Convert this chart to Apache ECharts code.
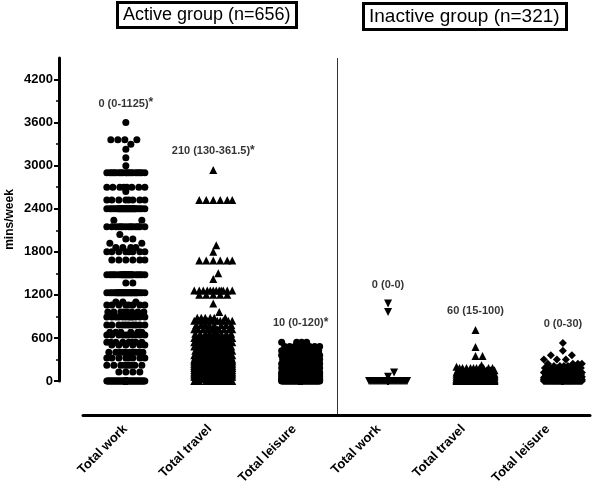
<!DOCTYPE html>
<html>
<head>
<meta charset="utf-8">
<title>mins/week by group</title>
<script src="https://cdn.jsdelivr.net/npm/echarts@6/dist/echarts.min.js"></script>
<style>
  html, body { margin: 0; padding: 0; background: #fff; }
  #main { width: 600px; height: 488px; }
</style>
</head>
<body>
<div id="main"></div>
<script>
// categories and tick labels
var categories = ['Total work', 'Total travel', 'Total leisure', 'Total work', 'Total travel', 'Total leisure'];
var groupTitles = ['Active group (n=656)', 'Inactive group (n=321)'];
var yTicks = [0, 600, 1200, 1800, 2400, 3000, 3600, 4200];

// summary text: median (IQR), * = significant
var summaryText = ['0 (0-1125)', '210 (130-361.5)', '10 (0-120)', '0 (0-0)', '60 (15-100)', '0 (0-30)'];
var summaryStar = [true, true, true, false, false, false];

// active group, mins/week values and how many people sit at each value
var activeWorkValues = [0, 125, 220, 320, 400, 500, 540, 640, 680, 780, 890, 960, 1060, 1100, 1230, 1365, 1480, 1685, 1800, 1860, 1920, 1980, 2040, 2150, 2240, 2400, 2520, 2640, 2700, 2900, 3000, 3110, 3230, 3300, 3360, 3600];
var activeWorkCounts = [388, 4, 8, 8, 10, 6, 8, 10, 6, 10, 12, 8, 8, 3, 30, 2, 24, 6, 8, 4, 2, 2, 1, 14, 2, 28, 8, 1, 8, 18, 1, 1, 1, 1, 4, 1];

var activeTravelValues = [0, 30, 60, 90, 120, 150, 180, 210, 240, 270, 300, 330, 360, 420, 480, 540, 600, 660, 720, 780, 840, 880, 960, 1080, 1200, 1260, 1420, 1500, 1680, 1800, 1890, 2520, 2940];
var activeTravelCounts = [10, 10, 40, 40, 44, 40, 50, 60, 50, 40, 40, 20, 30, 30, 25, 20, 25, 10, 12, 8, 10, 6, 1, 1, 5, 12, 1, 1, 6, 1, 1, 6, 1];

var activeLeisureValues = [0, 10, 20, 30, 45, 60, 90, 120, 150, 180, 210, 240, 270, 300, 360, 420, 480, 540];
var activeLeisureCounts = [301, 40, 15, 15, 20, 40, 40, 40, 20, 25, 15, 20, 8, 20, 15, 10, 8, 4];

// inactive group
var inactiveWorkValues = [0, 60, 120, 960, 1080];
var inactiveWorkCounts = [317, 1, 1, 1, 1];

var inactiveTravelValues = [0, 10, 15, 20, 30, 40, 45, 60, 70, 80, 90, 100, 120, 150, 180, 200, 220, 350, 475, 710];
var inactiveTravelCounts = [55, 15, 20, 15, 30, 15, 10, 40, 10, 15, 20, 20, 25, 15, 10, 1, 1, 2, 1, 1];

var inactiveLeisureValues = [0, 10, 20, 30, 45, 60, 90, 120, 150, 180, 210, 240, 300, 360, 420, 530];
var inactiveLeisureCounts = [170, 20, 25, 20, 10, 20, 15, 12, 8, 6, 4, 4, 3, 2, 1, 1];

// layout
var FONT = 'Liberation Sans, Arial, sans-serif';
var GRID_LEFT = 83, GRID_WIDTH = 507, GRID_TOP = 58, GRID_HEIGHT = 323;
var Y_MAX = 4500;
var X_AXIS_OFFSET = 34;
var SWARM_MIN = -0.49, SWARM_MAX = 5.31;
var PX_PER_COL = GRID_WIDTH / (SWARM_MAX - SWARM_MIN);
var PX_PER_MIN = GRID_HEIGHT / Y_MAX;
var DOT = 7;     // spacing between dot centres, px
var CAP = 19;    // max half width of a column, px

// simple beeswarm: each point goes to the nearest free spot from the centre,
// if the column is full it goes where it overlaps least
function swarm(values, counts, col) {
    var placed = [];
    var out = [];
    values.forEach(function (v, k) {
        var ypx = v * PX_PER_MIN;
        for (var n = 0; n < counts[k]; n++) {
            var near = placed.filter(function (p) { return Math.abs(p[1] - ypx) < DOT; });
            var best = 0, bestScore = -1;
            for (var i = 0; i <= 2 * CAP; i++) {
                var x = i % 2 ? (i + 1) / 2 : -i / 2;
                var d = Infinity;
                for (var j = 0; j < near.length; j++) {
                    var dx = near[j][0] - x, dy = near[j][1] - ypx;
                    d = Math.min(d, dx * dx + dy * dy);
                }
                if (d >= DOT * DOT) { best = x; break; }
                if (d > bestScore) { bestScore = d; best = x; }
            }
            placed.push([best, ypx]);
            out.push([col + best / PX_PER_COL, v]);
        }
    });
    return out;
}

var columns = [
    { values: activeWorkValues, counts: activeWorkCounts, symbol: 'circle', size: 7, rotate: 0 },
    { values: activeTravelValues, counts: activeTravelCounts, symbol: 'triangle', size: 8, rotate: 0 },
    { values: activeLeisureValues, counts: activeLeisureCounts, symbol: 'circle', size: 7, rotate: 0 },
    { values: inactiveWorkValues, counts: inactiveWorkCounts, symbol: 'triangle', size: 8, rotate: 180 },
    { values: inactiveTravelValues, counts: inactiveTravelCounts, symbol: 'triangle', size: 8, rotate: 0 },
    { values: inactiveLeisureValues, counts: inactiveLeisureCounts, symbol: 'diamond', size: 8, rotate: 0 }
];

var series = columns.map(function (c, i) {
    return {
        type: 'scatter',
        name: categories[i] + ' ' + i,
        xAxisIndex: 1,
        yAxisIndex: 0,
        symbol: c.symbol,
        symbolSize: c.size,
        symbolRotate: c.rotate,
        itemStyle: { color: '#000', opacity: 1 },
        silent: true,
        clip: false,
        data: swarm(c.values, c.counts, i)
    };
});

// median (IQR) text above each column
series.push({
    type: 'scatter',
    xAxisIndex: 1,
    yAxisIndex: 0,
    symbolSize: 1,
    itemStyle: { color: 'transparent' },
    silent: true,
    clip: false,
    data: columns.map(function (c, i) { return [i, Math.max.apply(null, c.values)]; }),
    label: {
        show: true,
        position: 'top',
        distance: 13,
        formatter: function (p) {
            return '{t|' + summaryText[p.dataIndex] + '}' + (summaryStar[p.dataIndex] ? '{s|*}' : '');
        },
        rich: {
            t: { fontFamily: FONT, fontSize: 11, fontWeight: 'bold', color: '#000', lineHeight: 11, verticalAlign: 'bottom', padding: [4, 0, 0, 0] },
            s: { fontFamily: FONT, fontSize: 12, fontWeight: 'bold', color: '#000', lineHeight: 12, verticalAlign: 'top' }
        }
    }
});

var chart = echarts.init(document.getElementById('main'));

var option = {
    animation: false,
    backgroundColor: '#fff',
    title: [
        {
            text: groupTitles[0], left: 117, top: 2,
            padding: [4, 6, 4, 6], borderWidth: 3, borderColor: '#000',
            textStyle: { fontFamily: FONT, fontSize: 18, fontWeight: 'normal', color: '#000' }
        },
        {
            text: groupTitles[1], left: 363, top: 3,
            padding: [4, 7, 4, 6], borderWidth: 3, borderColor: '#000',
            textStyle: { fontFamily: FONT, fontSize: 19, fontWeight: 'normal', color: '#000' }
        }
    ],
    grid: {
        left: GRID_LEFT, width: GRID_WIDTH, top: GRID_TOP, height: GRID_HEIGHT,
        containLabel: false, outerBoundsMode: 'none'
    },
    xAxis: [
        {
            type: 'category',
            data: categories,
            offset: X_AXIS_OFFSET,
            axisLine: { onZero: false, lineStyle: { color: '#000', width: 3 } },
            axisTick: { alignWithLabel: true, length: 5, lineStyle: { color: '#000', width: 2 } },
            axisLabel: {
                interval: 0, rotate: 45, margin: 12,
                fontFamily: FONT, fontSize: 13, fontWeight: 'bold', color: '#000'
            },
            splitLine: { show: false }
        },
        {
            type: 'value',
            min: SWARM_MIN,
            max: SWARM_MAX,
            show: false
        }
    ],
    yAxis: {
        type: 'value',
        min: 0,
        max: Y_MAX,
        interval: 600,
        offset: 24,
        name: 'mins/week',
        nameLocation: 'middle',
        nameGap: 43,
        nameMoveOverlap: false,
        nameTextStyle: { fontFamily: FONT, fontSize: 12, fontWeight: 'bold', color: '#000' },
        axisLine: { show: true, onZero: false, lineStyle: { color: '#000', width: 3 } },
        axisTick: { show: true, customValues: yTicks, length: 5, lineStyle: { color: '#000', width: 2 } },
        minorTick: { show: true, splitNumber: 2, length: 3, lineStyle: { color: '#000', width: 1.5 } },
        axisLabel: {
            customValues: yTicks, margin: 6,
            fontFamily: FONT, fontSize: 13, fontWeight: 'bold', color: '#000',
            formatter: function (v) { return String(v); }
        },
        splitLine: { show: false }
    },
    series: series
};

chart.setOption(option);

// thin divider between the two groups, from top of y axis down to the x axis
var xa = chart.convertToPixel({ xAxisIndex: 0 }, 2);
var xb = chart.convertToPixel({ xAxisIndex: 0 }, 3);
var yTop = chart.convertToPixel({ yAxisIndex: 0 }, Y_MAX);
var yBottom = chart.convertToPixel({ yAxisIndex: 0 }, 0) + X_AXIS_OFFSET;
var xMid = Math.round((xa + xb) / 2) + 0.5;
chart.setOption({
    graphic: [{
        type: 'line',
        silent: true,
        shape: { x1: xMid, y1: yTop, x2: xMid, y2: yBottom },
        style: { stroke: '#333', lineWidth: 1 }
    }]
});
</script>
</body>
</html>
